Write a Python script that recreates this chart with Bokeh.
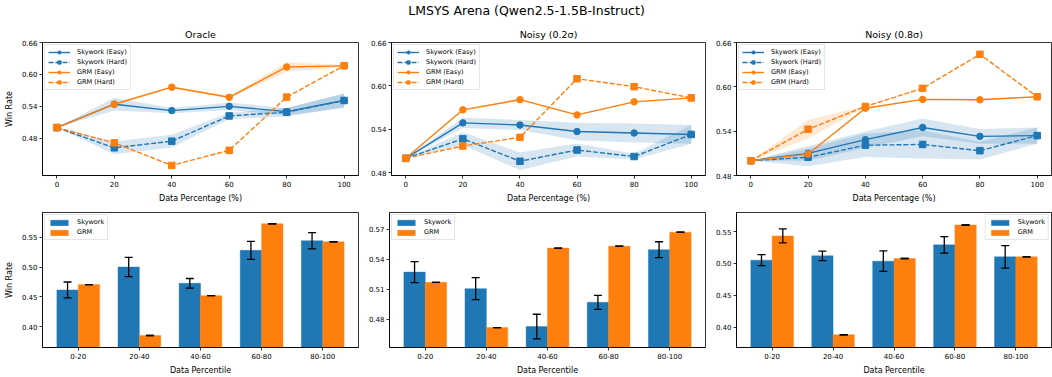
import numpy as np
from bokeh.plotting import figure
from bokeh.models import (Range1d, FixedTicker, NumeralTickFormatter, Legend, LegendItem,
                          Whisker, TeeHead, ColumnDataSource, FactorRange)
from bokeh.layouts import column, row
from bokeh.transform import dodge
from bokeh.core.properties import value
from bokeh.embed import file_html
from bokeh.resources import INLINE

FONT = "DejaVu Sans"
BLUE = "#1f77b4"
ORANGE = "#ff7f0e"

SUPTITLE = "LMSYS Arena (Qwen2.5-1.5B-Instruct)"
line_titles = ["Oracle", "Noisy (0.2σ)", "Noisy (0.8σ)"]
series_labels = ["Skywork (Easy)", "Skywork (Hard)", "GRM (Easy)", "GRM (Hard)"]

pct = [0, 20, 40, 60, 80, 100]

# ---- Oracle ----
oracle_sky_easy = [0.500, 0.544, 0.532, 0.540, 0.530, 0.551]
oracle_sky_easy_std = [0.0, 0.012, 0.005, 0.007, 0.007, 0.013]
oracle_sky_hard = [0.500, 0.462, 0.4745, 0.522, 0.529, 0.551]
oracle_sky_hard_std = [0.0, 0.012, 0.012, 0.006, 0.008, 0.013]
oracle_grm_easy = [0.500, 0.544, 0.576, 0.557, 0.614, 0.616]
oracle_grm_easy_std = [0.0, 0.002, 0.002, 0.002, 0.009, 0.002]
oracle_grm_hard = [0.500, 0.4714, 0.429, 0.4573, 0.5574, 0.6164]
oracle_grm_hard_std = [0.0, 0.0, 0.0, 0.0, 0.0, 0.0]

# ---- Noisy 0.2 sigma ----
n02_sky_easy = [0.500, 0.549, 0.546, 0.537, 0.535, 0.533]
n02_sky_easy_std = [0.0, 0.007, 0.007, 0.012, 0.013, 0.013]
n02_sky_hard = [0.500, 0.527, 0.496, 0.5115, 0.5025, 0.533]
n02_sky_hard_std = [0.0, 0.009, 0.012, 0.009, 0.004, 0.013]
n02_grm_easy = [0.500, 0.567, 0.581, 0.560, 0.578, 0.5835]
n02_grm_easy_std = [0.0, 0.001, 0.001, 0.001, 0.001, 0.001]
n02_grm_hard = [0.500, 0.517, 0.529, 0.610, 0.599, 0.5835]
n02_grm_hard_std = [0.0, 0.0, 0.0, 0.0, 0.0, 0.0]

# ---- Noisy 0.8 sigma ----
n08_sky_easy = [0.500, 0.510, 0.5285, 0.545, 0.533, 0.534]
n08_sky_easy_std = [0.0, 0.010, 0.011, 0.012, 0.010, 0.011]
n08_sky_hard = [0.500, 0.5046, 0.521, 0.522, 0.5136, 0.534]
n08_sky_hard_std = [0.0, 0.012, 0.016, 0.019, 0.012, 0.011]
n08_grm_easy = [0.500, 0.509, 0.571, 0.583, 0.5825, 0.5866]
n08_grm_easy_std = [0.0, 0.001, 0.001, 0.001, 0.001, 0.001]
n08_grm_hard = [0.500, 0.5426, 0.5734, 0.598, 0.644, 0.5866]
n08_grm_hard_std = [0.0, 0.0125, 0.001, 0.0, 0.0, 0.0]

# ---- Bar panels ----
percentiles = ["0-20", "20-40", "40-60", "60-80", "80-100"]
bar_labels = ["Skywork", "GRM"]

oracle_bar_sky = [0.4617, 0.500, 0.4728, 0.5278, 0.5439]
oracle_bar_sky_err = [0.0133, 0.016, 0.008, 0.015, 0.0136]
oracle_bar_grm = [0.4706, 0.3856, 0.4522, 0.5722, 0.5422]
oracle_bar_grm_err = [0.0, 0.0, 0.0, 0.0, 0.0]

n02_bar_sky = [0.5273, 0.5107, 0.4727, 0.497, 0.5497]
n02_bar_sky_err = [0.0105, 0.011, 0.0123, 0.007, 0.008]
n02_bar_grm = [0.517, 0.4717, 0.5513, 0.5533, 0.5673]
n02_bar_grm_err = [0.0, 0.0, 0.0, 0.0, 0.0]

n08_bar_sky = [0.5052, 0.512, 0.5036, 0.5292, 0.5104]
n08_bar_sky_err = [0.0086, 0.0075, 0.016, 0.013, 0.0177]
n08_bar_grm = [0.5432, 0.388, 0.5078, 0.5604, 0.5104]
n08_bar_grm_err = [0.011, 0.0, 0.0, 0.0, 0.0]

line_ticks = [0.48, 0.54, 0.60, 0.66]


def style_axes(p, xlabel, ylabel):
    p.outline_line_color = "#000000"
    p.outline_line_width = 0.8
    p.xgrid.visible = False
    p.ygrid.visible = False
    for ax in p.axis:
        ax.axis_line_color = "#000000"
        ax.axis_line_width = 0.8
        ax.major_tick_out = 3
        ax.major_tick_in = 0
        ax.minor_tick_out = 0
        ax.minor_tick_in = 0
        ax.major_tick_line_width = 0.8
        ax.major_label_standoff = 2
        ax.major_label_text_font = FONT
        ax.major_label_text_font_size = "7px"
        ax.major_label_text_color = "#000000"
        ax.axis_label_text_font = FONT
        ax.axis_label_text_font_size = "8px"
        ax.axis_label_text_font_style = "normal"
        ax.axis_label_text_color = "#000000"
    p.xaxis.axis_label = xlabel
    p.xaxis.axis_label_standoff = 4
    if ylabel:
        p.yaxis.axis_label = ylabel
        p.yaxis.axis_label_standoff = 5


def style_legend(leg):
    leg.label_text_font = FONT
    leg.label_text_font_size = "6.5px"
    leg.label_text_color = "#000000"
    leg.glyph_width = 22
    leg.glyph_height = 8
    leg.label_height = 8
    leg.spacing = 2
    leg.padding = 3
    leg.margin = 2
    leg.label_standoff = 7
    leg.border_line_color = "#cccccc"
    leg.border_line_width = 1
    leg.background_fill_alpha = 0.8


def line_panel(title, series, yr, width, bl, br, ylabel):
    p = figure(width=width, height=185, x_range=Range1d(-5, 105), y_range=Range1d(*yr),
               toolbar_location=None, output_backend="svg",
               min_border_left=bl, min_border_right=br, min_border_top=22, min_border_bottom=28)
    p.title.text = title
    p.title.align = "center"
    p.title.text_font = FONT
    p.title.text_font_size = "9.5px"
    p.title.text_font_style = "normal"
    p.title.text_color = "#000000"
    p.title.standoff = 5
    colors = [BLUE, BLUE, ORANGE, ORANGE]
    dashes = ["solid", "5 2", "solid", "5 2"]
    markers = ["circle", "square", "circle", "square"]
    for (m, s), c in zip(series, colors):
        m = np.array(m)
        s = np.array(s)
        p.varea(x=pct, y1=m - s, y2=m + s, fill_color=c, fill_alpha=0.18)
    items = []
    for (m, s), c, d, mk, lab in zip(series, colors, dashes, markers, series_labels):
        l = p.line(pct, m, line_color=c, line_width=1.4, line_dash=d)
        sc = p.scatter(pct, m, marker=mk, size=6.5, fill_color=c, line_color=c)
        items.append(LegendItem(label=lab, renderers=[l, sc]))
    leg = Legend(items=items, location="top_left")
    style_legend(leg)
    p.add_layout(leg)
    p.yaxis.ticker = FixedTicker(ticks=line_ticks)
    p.yaxis.formatter = NumeralTickFormatter(format="0.00")
    p.xaxis.ticker = FixedTicker(ticks=pct)
    style_axes(p, "Data Percentage (%)", ylabel)
    return p


def bar_panel(sky, sky_err, grm, grm_err, yr, yticks, width, bl, br, ylabel, legloc):
    xr = FactorRange(*percentiles, range_padding=0.034)
    p = figure(width=width, height=172, x_range=xr, y_range=Range1d(*yr),
               toolbar_location=None, output_backend="svg",
               min_border_left=bl, min_border_right=br, min_border_top=7, min_border_bottom=30)
    sky = np.array(sky)
    grm = np.array(grm)
    src = ColumnDataSource(dict(cat=percentiles, sky=sky, grm=grm,
                                sky_lo=sky - np.array(sky_err), sky_hi=sky + np.array(sky_err),
                                grm_lo=grm - np.array(grm_err), grm_hi=grm + np.array(grm_err)))
    b1 = p.vbar(x=dodge("cat", -0.175, range=xr), top="sky", bottom=0, width=0.35, source=src,
                fill_color=BLUE, line_color=BLUE, line_alpha=0.4)
    b2 = p.vbar(x=dodge("cat", 0.175, range=xr), top="grm", bottom=0, width=0.35, source=src,
                fill_color=ORANGE, line_color=ORANGE, line_alpha=0.4)
    for off, lo, hi in [(-0.175, "sky_lo", "sky_hi"), (0.175, "grm_lo", "grm_hi")]:
        w = Whisker(base=dodge("cat", off, range=xr), lower=lo, upper=hi, source=src,
                    line_color="#000000", line_width=1.3, level="overlay",
                    upper_head=TeeHead(size=8, line_color="#000000", line_width=1.3),
                    lower_head=TeeHead(size=8, line_color="#000000", line_width=1.3))
        p.add_layout(w)
    leg = Legend(items=[LegendItem(label=bar_labels[0], renderers=[b1]),
                        LegendItem(label=bar_labels[1], renderers=[b2])], location=legloc)
    style_legend(leg)
    leg.glyph_height = 7
    p.add_layout(leg)
    p.yaxis.ticker = FixedTicker(ticks=yticks)
    p.yaxis.formatter = NumeralTickFormatter(format="0.00")
    style_axes(p, "Data Percentile", ylabel)
    return p


p0 = figure(width=1052, height=20, x_range=Range1d(0, 1), y_range=Range1d(0, 1),
            toolbar_location=None, output_backend="svg", min_border=0)
p0.text(x=[0.5], y=[0.5], text=[SUPTITLE], text_align="center", text_baseline="middle",
        text_font=value(FONT), text_font_size="12.5px", text_color="#000000")
p0.axis.visible = False
p0.xgrid.visible = False
p0.ygrid.visible = False
p0.outline_line_color = None

p1 = line_panel(line_titles[0],
                [(oracle_sky_easy, oracle_sky_easy_std), (oracle_sky_hard, oracle_sky_hard_std),
                 (oracle_grm_easy, oracle_grm_easy_std), (oracle_grm_hard, oracle_grm_hard_std)],
                (0.41, 0.66), 360, 42, 2, "Win Rate")
p2 = line_panel(line_titles[1],
                [(n02_sky_easy, n02_sky_easy_std), (n02_sky_hard, n02_sky_hard_std),
                 (n02_grm_easy, n02_grm_easy_std), (n02_grm_hard, n02_grm_hard_std)],
                (0.4763, 0.66), 346, 31, 1, None)
p3 = line_panel(line_titles[2],
                [(n08_sky_easy, n08_sky_easy_std), (n08_sky_hard, n08_sky_hard_std),
                 (n08_grm_easy, n08_grm_easy_std), (n08_grm_hard, n08_grm_hard_std)],
                (0.48, 0.66), 346, 30, 1, None)

p4 = bar_panel(oracle_bar_sky, oracle_bar_sky_err, oracle_bar_grm, oracle_bar_grm_err,
               (0.3656, 0.591), [0.40, 0.45, 0.50, 0.55], 360, 42, 2, "Win Rate", "top_left")
p5 = bar_panel(n02_bar_sky, n02_bar_sky_err, n02_bar_grm, n02_bar_grm_err,
               (0.4517, 0.587), [0.48, 0.51, 0.54, 0.57], 346, 29, 1, None, "top_left")
p6 = bar_panel(n08_bar_sky, n08_bar_sky_err, n08_bar_grm, n08_bar_grm_err,
               (0.368, 0.580), [0.40, 0.45, 0.50, 0.55], 346, 30, 1, None, "top_right")

layout = column(p0, row(p1, p2, p3), row(p4, p5, p6))

open("out.html", "w").write(file_html(layout, INLINE))
